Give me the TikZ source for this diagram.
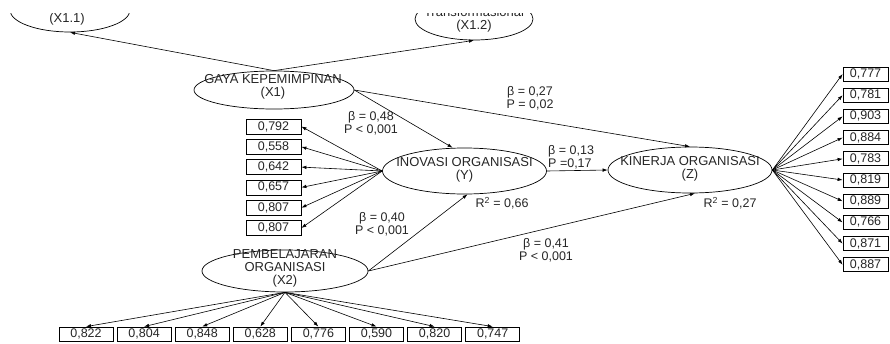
\documentclass[tikz,border=0pt]{standalone}
\usepackage{fontspec}
\setmainfont{Liberation Sans}
\usetikzlibrary{shapes.geometric,arrows.meta}
\begin{document}
\begin{tikzpicture}[x=1pt,y=-1pt,
  txt/.style={font=\fontsize{12.5}{13}\selectfont,text=black!85},
  lat/.style={ellipse,draw,line width=0.7pt,inner sep=0pt},
  lattext/.style={txt,font=\fontsize{13}{13}\selectfont,align=center,inner sep=0pt},
  ind/.style={txt,draw,rectangle,line width=0.8pt,inner sep=0pt},
  lbl/.style={txt,align=center,inner sep=0pt},
  arr/.style={-{Latex[length=5pt,width=3.5pt]},line width=0.6pt},
]
\useasboundingbox (0,0) rectangle (890,343);
\begin{scope}
\clip (0,13) rectangle (890,343);
% latent variables
\node[lat,minimum width=120pt,minimum height=44pt] (x11) at (70,10) {};
\node[lattext] (x11t) at (67,19) {(X1.1)};
\node[lat,minimum width=118pt,minimum height=42pt] (x12) at (474,19) {};
\node[lattext] (x12t) at (474,20) {Transformasional\\(X1.2)};
\node[lat,minimum width=160pt,minimum height=38pt] (x1) at (274,90) {};
\node[lattext] (x1t) at (273,87) {GAYA KEPEMIMPINAN\\(X1)};
\node[lat,minimum width=164pt,minimum height=46pt] (y) at (464.5,171) {};
\node[lattext] (yt) at (464.5,170) {INOVASI ORGANISASI\\(Y)};
\node[lat,minimum width=164pt,minimum height=46pt] (z) at (690,170) {};
\node[lattext] (zt) at (690,169) {KINERJA ORGANISASI\\(Z)};
\node[lat,minimum width=166pt,minimum height=42pt] (x2) at (285,271) {};
\node[lattext] (x2t) at (285,268) {PEMBELAJARAN\\ORGANISASI\\(X2)};
% second order
\draw[arr] (x1.north) -- (x11.south);
\draw[arr] (x1.north) -- (x12.south);
% structural paths
\draw[arr] (x1.east) -- (z.north);
\draw[arr] (x1.east) -- ([xshift=-12pt]y.north);
\draw[arr] (y.east) -- (z.west);
\draw[arr] (x2.east) -- ([xshift=3pt]y.south);
\draw[arr] (x2.east) -- ([xshift=5pt]z.south);
% path labels
\node[lbl] (b27) at (530,98) {β = 0,27\\P = 0,02};
\node[lbl] (b48) at (371,123) {β = 0,48\\P < 0,001};
\node[lbl] (b40) at (382,224) {β = 0,40\\P < 0,001};
\node[lbl] (b41) at (546,250) {β = 0,41\\P < 0,001};
\node[lbl,align=left,anchor=west] (b13) at (548,157) {β = 0,13\\P =0,17};
\node[lbl] (r66) at (502,203) {R\textsuperscript{2} = 0,66};
\node[lbl] (r27) at (730,203) {R\textsuperscript{2} = 0,27};
% indicators of Y
\foreach \v [count=\i from 0] in {{0,792},{0,558},{0,642},{0,657},{0,807},{0,807}}{
  \node[ind,minimum width=55pt,minimum height=15pt] (l\i) at (273.5,126.5+20.3*\i) {\v};
  \draw[arr] (y.west) -- (l\i.east);
}
% indicators of Z
\foreach \v [count=\i from 0] in {{0,777},{0,781},{0,903},{0,884},{0,783},{0,819},{0,889},{0,766},{0,871},{0,887}}{
  \node[ind,minimum width=45pt,minimum height=14pt] (r\i) at (865.5,74+21.2*\i) {\v};
  \draw[arr] (z.east) -- (r\i.west);
}
% indicators of X2
\foreach \v [count=\i from 0] in {{0,822},{0,804},{0,848},{0,628},{0,776},{0,590},{0,820},{0,747}}{
  \node[ind,minimum width=54pt,minimum height=14pt] (b\i) at (86+58.1*\i,334) {\v};
  \draw[arr] (x2.south) -- (b\i.north);
}
\end{scope}
\end{tikzpicture}
\end{document}
